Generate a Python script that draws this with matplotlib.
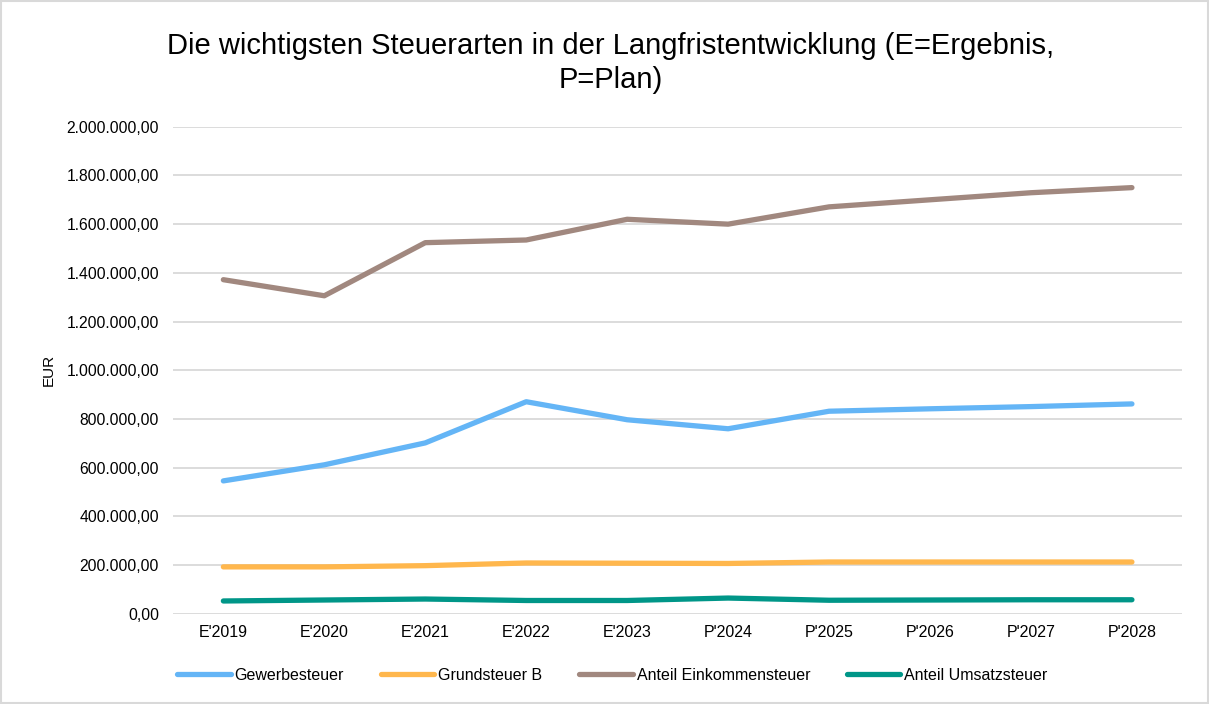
import matplotlib
matplotlib.use("Agg")
import matplotlib.pyplot as plt
from matplotlib.ticker import FuncFormatter, MultipleLocator
from matplotlib.patches import Rectangle

plt.rcParams['font.family'] = ['Liberation Sans', 'DejaVu Sans']

years = ["E'2019", "E'2020", "E'2021", "E'2022", "E'2023",
         "P'2024", "P'2025", "P'2026", "P'2027", "P'2028"]

gewerbesteuer = [546000, 612000, 702000, 871000, 797000,
                 760000, 832000, 842000, 851000, 862000]
grundsteuer_b = [193000, 193000, 198000, 209000, 208000,
                 207000, 213000, 213000, 213000, 213000]
einkommensteuer = [1372000, 1306000, 1524000, 1535000, 1620000,
                   1600000, 1671000, 1700000, 1729000, 1750000]
umsatzsteuer = [53000, 57000, 61000, 55000, 55000,
                65000, 56000, 57000, 58000, 58000]

series = [
    ("Gewerbesteuer", gewerbesteuer, "#64B5F6"),
    ("Grundsteuer B", grundsteuer_b, "#FFB74D"),
    ("Anteil Einkommensteuer", einkommensteuer, "#A1887F"),
    ("Anteil Umsatzsteuer", umsatzsteuer, "#009688"),
]


def de_format(v, pos):
    s = "{:,.2f}".format(v)
    return s.replace(",", "X").replace(".", ",").replace("X", ".")


fig = plt.figure(figsize=(12.09, 7.04), dpi=100)
ax = fig.add_axes([0.143, 0.128, 0.835, 0.692])

x = list(range(len(years)))
for name, vals, col in series:
    ax.plot(x, vals, color=col, lw=3.8, label=name, solid_capstyle='round',
            solid_joinstyle='round')

ax.set_xlim(-0.5, len(years) - 0.5)
ax.set_ylim(0, 2000000)
ax.yaxis.set_major_locator(MultipleLocator(200000))
ax.yaxis.set_major_formatter(FuncFormatter(de_format))
ax.set_xticks(x)
ax.set_xticklabels(years)
ax.grid(axis='y', color='#D9D9D9', lw=1.3)
ax.set_axisbelow(True)
for sp in ax.spines.values():
    sp.set_visible(False)
ax.tick_params(axis='x', length=0, labelsize=11.5, colors='#000000', pad=8)
ax.tick_params(axis='y', length=0, labelsize=11.3, colors='#000000', pad=10)
ax.set_ylabel("EUR", fontsize=11, labelpad=8)

fig.text(0.505, 0.911, "Die wichtigsten Steuerarten in der Langfristentwicklung (E=Ergebnis,\nP=Plan)",
         ha='center', va='center', fontsize=21, linespacing=1.27)

fig.legend(loc='center', bbox_to_anchor=(0.5065, 0.041), ncol=4, frameon=False,
           fontsize=11.5, handlelength=3.35, handletextpad=0.25, columnspacing=2.3)

fig.patches.append(Rectangle((0.001, 0.001), 0.998, 0.997, transform=fig.transFigure,
                             fill=False, edgecolor='#D9D9D9', lw=1.5))

fig.savefig("out.png", dpi=100)
